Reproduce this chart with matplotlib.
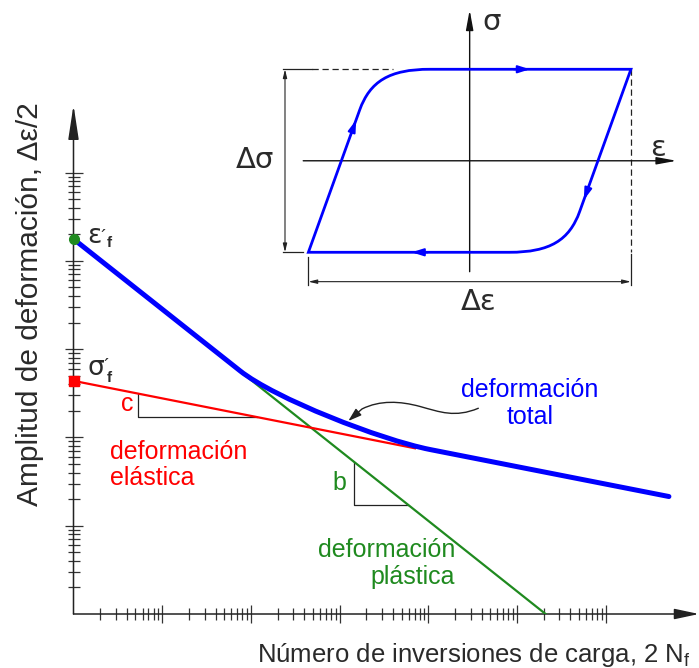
import numpy as np
import matplotlib
matplotlib.use('Agg')
import matplotlib.pyplot as plt
from matplotlib.path import Path
from matplotlib.patches import PathPatch, FancyArrowPatch

plt.rcParams['font.family'] = ['Liberation Sans', 'DejaVu Sans']

# ---------------- data (schematic) ----------------
# total strain curve: straight (plastic) part, smooth knee, straight (elastic) part
total_cycles = [1, 75.4, 187, 2853, 10450, 5.16e6]
total_strain = [17660, 568, 276, 94.7, 72.9, 21.4]
elastic_cycles = [1, 7080]
elastic_strain = [437, 75.3]
plastic_cycles = [1, 2.1e5]
plastic_strain = [17660, 1]
x_major = [1e1, 1e2, 1e3, 1e4, 1e5, 1e6]
y_major = [1e1, 1e2, 1e3, 1e4, 1e5]
minor_mult = [2, 3, 4, 5, 6, 7, 8, 9]
x_minor_decades = [1e0, 1e1, 1e2, 1e3, 1e4, 1e5]
y_minor_decades = [1e0, 1e1, 1e2, 1e3, 1e4]
c_tri_x = [5.38, 116]
b_tri_x = [1453, 5950]
pointer_x = [36640, 20000, 13550, 8060, 4800, 2853, 1790, 1253]
pointer_y = [213.8, 166, 194, 224, 258, 265, 210, 153.4]

# hysteresis loop (normalised strain / stress)
loop_eps = [-1, -0.682, -0.618, -0.50, -0.246, 1, 0.682, 0.618, 0.50, 0.246, -1]
loop_sig = [-1, 0.555, 0.866, 1.0, 1.0, 1, -0.555, -0.866, -1.0, -1.0, -1]

BLUE = '#0000ff'
RED = '#ff0000'
GREEN = '#1f8a1f'
TXT = '#2a2a2a'
AX = '#333333'

W, H = 699, 668
fig = plt.figure(figsize=(W / 100, H / 100), dpi=100)

X0, Y0, XT, YT = 73.5, 614, 699, 105
DX, DY = 88.7, 88.3
ax = fig.add_axes([X0 / W, 1 - Y0 / H, (XT - X0) / W, (Y0 - YT) / H])
ax.set_xscale('log')
ax.set_yscale('log')
ax.set_xlim(1, 10 ** ((XT - X0) / DX))
ax.set_ylim(1, 10 ** ((Y0 - YT) / DY))
for s in ax.spines.values():
    s.set_visible(False)
ax.patch.set_visible(False)

# axes with arrows
ax.annotate('', xy=(1, 0), xytext=(0, 0), xycoords='axes fraction',
            arrowprops=dict(arrowstyle='-|>,head_length=15,head_width=3.2', mutation_scale=1,
                            color='#222222', lw=1.1, shrinkA=0, shrinkB=0), annotation_clip=False)
ax.annotate('', xy=(0, 1), xytext=(0, 0), xycoords='axes fraction',
            arrowprops=dict(arrowstyle='-|>,head_length=21,head_width=3.2', mutation_scale=1,
                            color='#222222', lw=1.1, shrinkA=0, shrinkB=0), annotation_clip=False)

x_minor = [m * d for d in x_minor_decades for m in minor_mult]
y_minor = [m * d for d in y_minor_decades for m in minor_mult]
ax.set_xticks(x_major)
ax.set_xticks(x_minor, minor=True)
ax.set_yticks(y_major)
ax.set_yticks(y_minor, minor=True)
ax.tick_params(which='major', direction='inout', length=13, width=0.9, color=AX,
               labelbottom=False, labelleft=False)
ax.tick_params(which='minor', direction='inout', length=8, width=0.9, color=AX,
               labelbottom=False, labelleft=False)

# lines
ax.plot(plastic_cycles, plastic_strain, color=GREEN, lw=1.6, zorder=3)
ax.plot(elastic_cycles, elastic_strain, color=RED, lw=1.6, zorder=3)
tcodes = [Path.MOVETO, Path.LINETO, Path.CURVE4, Path.CURVE4, Path.CURVE4, Path.LINETO]
ax.add_patch(PathPatch(Path(list(zip(total_cycles, total_strain)), tcodes), fill=False,
                       edgecolor=BLUE, lw=3.6, capstyle='round', joinstyle='round', zorder=4))
ax.plot([plastic_cycles[0]], [plastic_strain[0]], 'o', color=GREEN, ms=7, clip_on=False, zorder=6)
ax.plot([elastic_cycles[0]], [elastic_strain[0]], 's', color=RED, ms=6.5, clip_on=False, zorder=6)


def on_line(xs, ys, x):
    return 10 ** np.interp(np.log10(x), np.log10(xs), np.log10(ys))

# slope triangles
cy1 = on_line(elastic_cycles, elastic_strain, c_tri_x[0])
cy2 = on_line(elastic_cycles, elastic_strain, c_tri_x[1])
ax.plot([c_tri_x[0], c_tri_x[0], c_tri_x[1]], [cy1, cy2, cy2], color='#222222', lw=0.9, zorder=2)
by1 = on_line(plastic_cycles, plastic_strain, b_tri_x[0])
by2 = on_line(plastic_cycles, plastic_strain, b_tri_x[1])
ax.plot([b_tri_x[0], b_tri_x[0], b_tri_x[1]], [by1, by2, by2], color='#222222', lw=0.9, zorder=2)

# wavy pointer
codes = [Path.MOVETO, Path.CURVE4, Path.CURVE4, Path.CURVE4, Path.CURVE4, Path.CURVE4, Path.CURVE4, Path.LINETO]
pp = Path(list(zip(pointer_x, pointer_y)), codes)
ax.add_patch(FancyArrowPatch(path=pp, arrowstyle='-|>,head_length=8,head_width=2.6', mutation_scale=1,
                             transform=ax.transData, color='#222222', lw=1.0, zorder=5))

FS = 18
ax.text(4.0, 239, 'c', color=RED, fontsize=FS, ha='center', va='center')
ax.text(1000, 30.2, 'b', color=GREEN, fontsize=FS, ha='center', va='center')
ax.text(1.40e5, 243, 'deformación\ntotal', color=BLUE, fontsize=FS, ha='center', va='center',
        multialignment='center', linespacing=1.15)
ax.text(2.58, 48.7, 'deformación\nelástica', color=RED, fontsize=FS, ha='left', va='center',
        multialignment='left', linespacing=1.15)
ax.text(2.0e4, 3.73, 'deformación\nplástica', color=GREEN, fontsize=FS, ha='right', va='center',
        multialignment='right', linespacing=1.15)

# epsilon'_f and sigma'_f labels
def sym_label(yv, sym, dy_sym, dx_prime, dy_prime, dy_f):
    ax.annotate(sym, xy=(1, yv), xytext=(10.2, dy_sym), textcoords='offset points',
                fontsize=19, color=TXT, ha='left', va='baseline', annotation_clip=False,
                family='DejaVu Sans')
    ax.annotate('´', xy=(1, yv), xytext=(dx_prime, dy_prime), textcoords='offset points',
                fontsize=13, color=TXT, ha='left', va='baseline', annotation_clip=False)
    ax.annotate('f', xy=(1, yv), xytext=(23.6, dy_f), textcoords='offset points',
                fontsize=11, color=TXT, ha='left', va='baseline', fontweight='bold',
                annotation_clip=False)

sym_label(plastic_strain[0], 'ε', -2.7, 19.5, -3.2, -6.0)
sym_label(elastic_strain[0], 'σ', 4.1, 21.5, 6.5, -0.7)

fig.text(30 / W, 1 - 304 / H, 'Amplitud de deformación, Δε/2', rotation=90, fontsize=21.5,
         color=TXT, ha='center', va='center')
fig.text(474 / W, 1 - 655 / H, 'Número de inversiones de carga, 2 N$_\\mathregular{f}$', fontsize=18.5,
         color=TXT, ha='center', va='center')

# ---------------- inset: hysteresis loop ----------------
axi = fig.add_axes([230 / W, 1 - 320 / H, 469 / W, 320 / H])
axi.set_xlim(-1.486, 1.422)
axi.set_ylim(-1.740, 1.757)
axi.axis('off')
axi.patch.set_visible(False)

lcodes = [Path.MOVETO, Path.LINETO, Path.CURVE4, Path.CURVE4, Path.CURVE4, Path.LINETO,
          Path.LINETO, Path.CURVE4, Path.CURVE4, Path.CURVE4, Path.CLOSEPOLY]
axi.add_patch(PathPatch(Path(list(zip(loop_eps, loop_sig)), lcodes), fill=False,
                        edgecolor=BLUE, lw=2.0, zorder=4))

# coordinate axes of inset
axi.annotate('', xy=(0, 1.648), xytext=(0, -1.212),
             arrowprops=dict(arrowstyle='-|>,head_length=12,head_width=2.2', mutation_scale=1,
                             color='#111111', lw=1.0, shrinkA=0, shrinkB=0))
axi.annotate('', xy=(1.283, 0), xytext=(-1.032, 0),
             arrowprops=dict(arrowstyle='-|>,head_length=12,head_width=2.2', mutation_scale=1,
                             color='#111111', lw=1.0, shrinkA=0, shrinkB=0))

# arrows on loop
def loop_arrow(tip, d):
    axi.annotate('', xy=tip, xytext=(tip[0] - d[0], tip[1] - d[1]),
                 arrowprops=dict(arrowstyle='-|>,head_length=7,head_width=2.2', mutation_scale=1,
                                 color=BLUE, lw=1.5, shrinkA=0, shrinkB=0), zorder=5)

loop_arrow((-0.704, 0.446), (0.318 * 0.1, 1.555 * 0.1))
loop_arrow((0.374, 1.0), (0.1, 0))
loop_arrow((0.708, -0.428), (-0.318 * 0.1, -1.555 * 0.1))
loop_arrow((-0.36, -1.0), (-0.1, 0))

# dimension lines
dim = dict(arrowstyle='<|-|>,head_length=5,head_width=1.2', mutation_scale=1, color='#222222',
           lw=0.8, shrinkA=0, shrinkB=0)
axi.annotate('', xy=(-1.145, 1.0), xytext=(-1.145, -1.0), arrowprops=dim)
axi.annotate('', xy=(-1.0, -1.321), xytext=(1.0, -1.321), arrowprops=dim)
axi.plot([-1.156, -0.98], [1, 1], color='#222222', lw=0.9)
axi.plot([-0.98, -0.476], [1, 1], color='#222222', lw=0.9, ls=(0, (5, 3)))
axi.plot([-1.156, -1.032], [-1, -1], color='#222222', lw=0.9)
axi.plot([-1, -1], [-1.048, -1.36], color='#222222', lw=0.9)
axi.plot([1, 1], [1, -1.0], color='#222222', lw=0.9, ls=(0, (5, 3)))
axi.plot([1, 1], [-1.02, -1.36], color='#222222', lw=0.9)

GF = 21
axi.text(0.136, 1.52, 'σ', fontsize=GF, color=TXT, ha='center', va='center', family='DejaVu Sans')
axi.text(1.167, 0.14, 'ε', fontsize=GF, color=TXT, ha='center', va='center', family='DejaVu Sans')
axi.text(-1.331, 0.01, 'Δσ', fontsize=GF, color=TXT, ha='center', va='center', family='DejaVu Sans')
axi.text(0.053, -1.54, 'Δε', fontsize=GF, color=TXT, ha='center', va='center', family='DejaVu Sans')

fig.savefig('out.png', dpi=100)
